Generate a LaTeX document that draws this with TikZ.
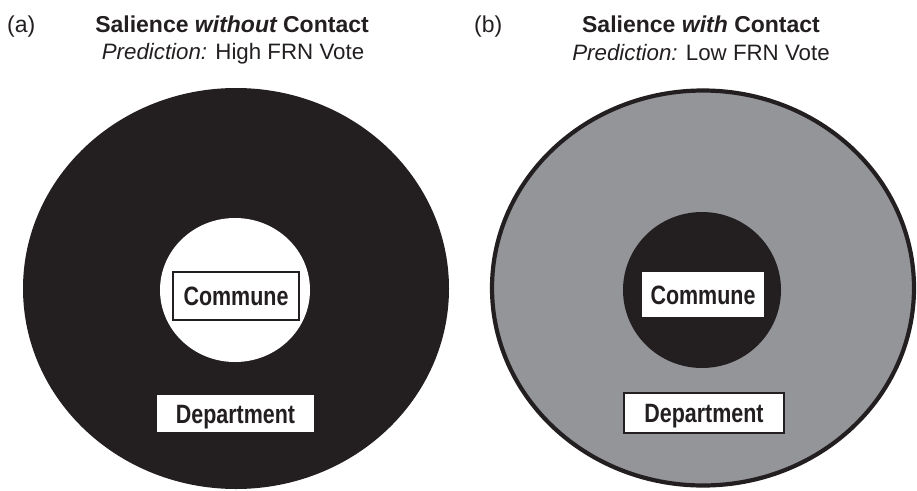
\documentclass[tikz,border=0pt]{standalone}
\usepackage{fontspec}
\setmainfont{Liberation Sans}
\newfontfamily\narrowfont[FakeStretch=0.81]{Liberation Sans}
\definecolor{ink}{HTML}{231F20}
\definecolor{midgray}{RGB}{147,149,152}
\begin{document}
\begin{tikzpicture}[x=1pt,y=-1pt,
  titletext/.style={anchor=base,inner sep=0pt,text=ink,font=\fontsize{23}{27}\selectfont\bfseries},
  predtext/.style={anchor=base,inner sep=0pt,text=ink,font=\fontsize{22.3}{27}\selectfont},
  paneltag/.style={anchor=base west,inner sep=0pt,text=ink,font=\fontsize{23}{27}\selectfont},
  labelbox/.style={fill=white,inner sep=0pt,text=ink,text height=19pt,text depth=0pt,
    font=\narrowfont\fontsize{26.5}{30}\selectfont\bfseries},
  framed/.style={draw=ink,line width=1.2pt}
]
\useasboundingbox (0,0) rectangle (917,490);
% panel (a)
\node[paneltag] (taga) at (7,32) {(a)};
\node[titletext] (titlea) at (232,32) {Salience {\itshape without} Contact};
\node[predtext] (preda) at (233,59.5) {{\itshape Prediction:} High FRN Vote};
\fill[ink] (236,288.5) ellipse [x radius=213, y radius=200.5];
\fill[white] (235,290) ellipse [x radius=75, y radius=72];
\node[labelbox,framed,minimum width=126pt,minimum height=48pt] (communea) at (236,296) {Commune};
\node[labelbox,minimum width=157pt,minimum height=37pt] (departmenta) at (235.5,413.5) {Department};
% panel (b)
\node[paneltag] (tagb) at (474,32) {(b)};
\node[titletext] (titleb) at (701,32) {Salience {\itshape with} Contact};
\node[predtext] (predb) at (701,60) {{\itshape Prediction:} Low FRN Vote};
\filldraw[fill=midgray,draw=ink,line width=4.2pt] (703,288) ellipse [x radius=211, y radius=197.5];
\fill[ink] (702,290) ellipse [x radius=79, y radius=78];
\node[labelbox,minimum width=122pt,minimum height=45pt] (communeb) at (703,294.5) {Commune};
\node[labelbox,framed,minimum width=160pt,minimum height=40pt] (departmentb) at (704,413) {Department};
\end{tikzpicture}
\end{document}
